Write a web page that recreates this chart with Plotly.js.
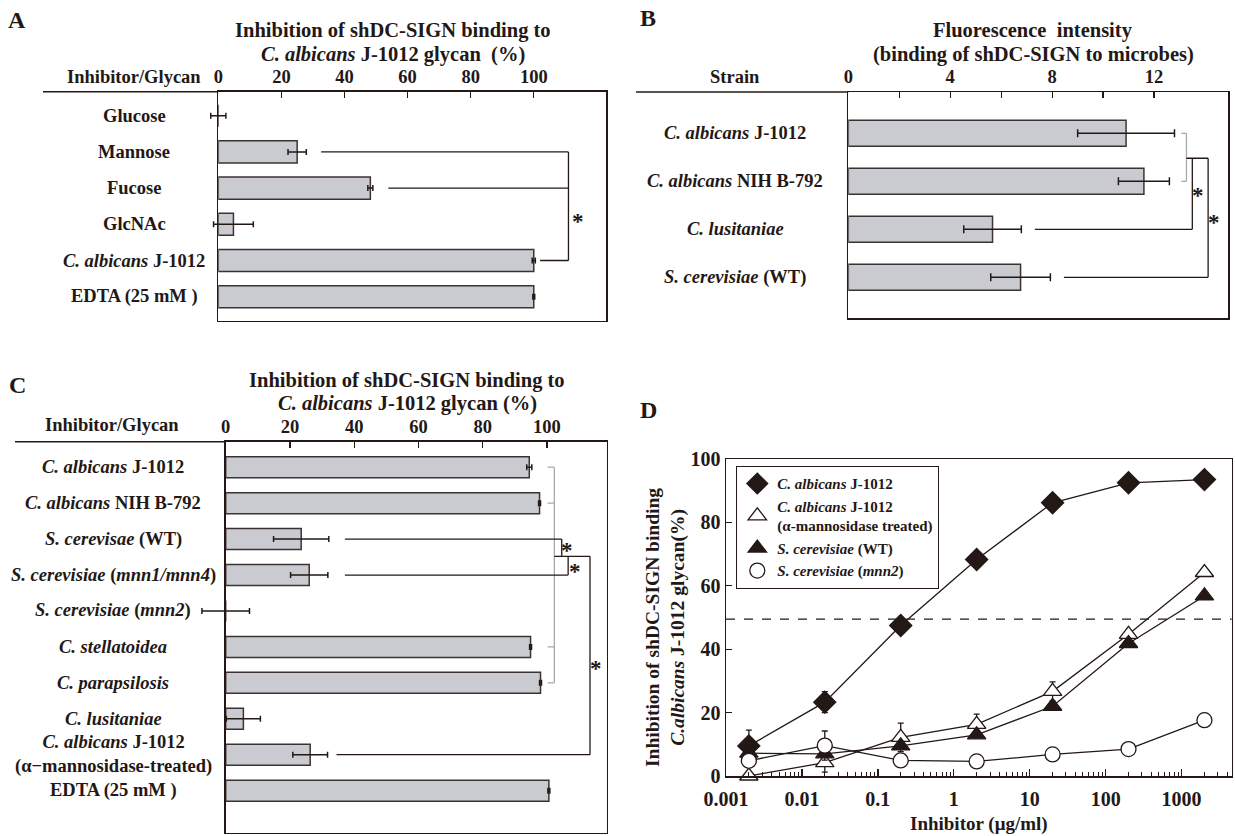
<!DOCTYPE html>
<html><head><meta charset="utf-8">
<script src="https://cdn.plot.ly/plotly-3.0.1.min.js"></script>
<style>html,body{margin:0;padding:0;background:#fff}</style>
</head><body>
<div id="chart" style="width:1235px;height:836px"></div>
<script>
// ---------- Panel A ----------
const catsA = ['Glucose', 'Mannose', 'Fucose', 'GlcNAc', '<i>C. albicans</i> J-1012', 'EDTA (25 mM )'];
const valsA = [0, 25.0, 48.2, 4.8, 100, 100];
const errA = [2.4, 2.9, 0.8, 6.3, 0.5, 0.3];
const ticksA = [0, 20, 40, 60, 80, 100];

// ---------- Panel B ----------
const catsB = ['<i>C. albicans</i> J-1012', '<i>C. albicans</i> NIH B-792', '<i>C. lusitaniae</i>', '<i>S. cerevisiae</i> (WT)'];
const valsB = [10.9, 11.6, 5.66, 6.76];
const errB = [1.9, 1.0, 1.13, 1.17];
const ticksB = [0, 2, 4, 6, 8, 10, 12];
const tickTextB = ['0', '', '4', '', '8', '', '12'];

// ---------- Panel C ----------
const catsC = ['<i>C. albicans</i> J-1012', '<i>C. albicans</i> NIH B-792', '<i>S. cerevisae</i> (WT)',
  '<i>S. cerevisiae</i> (<i>mnn1/mnn4</i>)', '<i>S. cerevisiae</i> (<i>mnn2</i>)', '<i>C. stellatoidea</i>',
  '<i>C. parapsilosis</i>', '<i>C. lusitaniae</i>', '<i>C. albicans</i> J-1012<br>(α−mannosidase-treated)', 'EDTA (25 mM )'];
const valsC = [94.5, 97.7, 23.5, 26.0, 0, 94.9, 98.0, 5.5, 26.3, 100.6];
const errC = [0.8, 0.3, 8.6, 5.8, 7.4, 0.3, 0.3, 5.3, 5.4, 0.3];
const ticksC = [0, 20, 40, 60, 80, 100];

// ---------- Panel D ----------
const doses = [0.002, 0.02, 0.2, 2, 20, 200, 2000];
const dAlb = [9.5, 23.3, 47.5, 68.3, 86.2, 92.5, 93.5];
const dAlbErr = [5.0, 3.3, 0, 0, 0, 0, 0];
const dMan = [0, 4.2, 12.2, 16.3, 26.7, 44.7, 64.2];
const dManErr = [0, 3.0, 4.5, 3.2, 3.0, 0, 0];
const dWT = [7.2, 7.0, 9.5, 13.0, 22.0, 41.8, 56.8];
const dWTErr = [0, 0, 0, 0, 0, 0, 0];
const dMnn2 = [4.8, 9.6, 4.9, 4.6, 6.8, 8.5, 17.6];
const dMnn2Err = [0, 4.6, 0, 0, 0, 0, 0];
const namesD = ['<i>C. albicans</i> J-1012', '<i>C. albicans</i> J-1012<br>(α-mannosidase treated)',
  '<i>S. cerevisiae</i> (WT)', '<i>S. cerevisiae</i> (<i>mnn2</i>)'];
const ticksD = [0.001, 0.01, 0.1, 1, 10, 100, 1000];
const tickTextD = ['0.001', '0.01', '0.1', '1', '10', '100', '1000'];
const ticksDY = [0, 20, 40, 60, 80, 100];
const halfLine = 49.5;

// ---------- styling ----------
const W = 1235, H = 836;
const INK = '#231815';
const BAR = '#c9cbd1';
const GRAY = '#a8a8a8';
const FAM = 'Liberation Serif, Times New Roman, serif';
const px = v => v / W;
const py = v => 1 - v / H;
const f = (size, extra) => Object.assign({family: FAM, size: size, color: INK, weight: 'bold'}, extra || {});

function barTrace(vals, xa, ya, width) {
  return {
    type: 'bar', orientation: 'h', x: vals, y: vals.map((_, i) => i),
    xaxis: xa, yaxis: ya, width: width,
    marker: {color: BAR, line: {color: '#3d3232', width: 1.5}},
    showlegend: false, hoverinfo: 'skip'
  };
}
// error bars drawn on a wider, invisible twin subplot with the same scale (so they may cross x = 0)
function errTrace(vals, errs, xa, ya, capw) {
  return {
    type: 'scatter', mode: 'markers', x: vals, y: vals.map((_, i) => i), xaxis: xa, yaxis: ya,
    marker: {size: 1, color: 'rgba(0,0,0,0)'},
    error_x: {type: 'data', array: errs, visible: true, color: INK, thickness: 1.5, width: capw},
    showlegend: false, hoverinfo: 'skip', cliponaxis: false
  };
}

const traces = [
  barTrace(valsA, 'x', 'y', 0.61),
  barTrace(valsB, 'x2', 'y2', 0.54),
  barTrace(valsC, 'x3', 'y3', 0.585),
  errTrace(valsA, errA, 'x5', 'y5', 3),
  errTrace(valsB, errB, 'x2', 'y2', 4),
  errTrace(valsC, errC, 'x6', 'y6', 3)
];

const seriesD = [
  {y: dAlb, e: dAlbErr, sym: 'diamond', fill: INK, size: 17},
  {y: dMan, e: dManErr, sym: 'triangle-up', fill: '#ffffff', size: 16},
  {y: dWT, e: dWTErr, sym: 'triangle-up', fill: INK, size: 16},
  {y: dMnn2, e: dMnn2Err, sym: 'circle', fill: '#ffffff', size: 15}
];
seriesD.forEach(s => traces.push({
  type: 'scatter', mode: 'lines', x: doses, y: s.y, xaxis: 'x4', yaxis: 'y4',
  line: {color: INK, width: 1.3}, showlegend: false, hoverinfo: 'skip', cliponaxis: false
}));
seriesD.forEach((s, i) => traces.push({
  type: 'scatter', mode: 'markers', x: doses, y: s.y, xaxis: 'x4', yaxis: 'y4', name: namesD[i],
  marker: {symbol: s.sym, size: s.size, color: s.fill, line: {color: INK, width: 1.3}},
  error_y: {type: 'data', array: s.e, visible: true, color: INK, thickness: 1.3, width: 3},
  cliponaxis: false, hoverinfo: 'skip'
}));

// minor log ticks for panel D
const minorD = [];
for (let p = -3; p <= 3; p++) for (let m = 2; m <= 9; m++) { const v = m * Math.pow(10, p); if (v < 4500) minorD.push(v); }

function topAxis(domain, range, tickvals, ticktext) {
  return {
    domain: domain, range: range, side: 'top', anchor: null,
    tickmode: 'array', tickvals: tickvals, ticktext: ticktext,
    ticks: 'inside', ticklen: 6, tickwidth: 1.3, tickcolor: INK,
    showline: true, mirror: true, linecolor: INK, linewidth: 1.5,
    showgrid: false, zeroline: false, tickfont: f(18.5), fixedrange: true
  };
}
function catAxis(domain, n, topPad, botPad) {
  return {
    domain: domain, range: [n - 1 + botPad, -topPad], showticklabels: false, ticks: '',
    showline: true, mirror: true, linecolor: INK, linewidth: 1.5,
    showgrid: false, zeroline: false, fixedrange: true
  };
}

// box geometry (pixels)
const boxA = {l: 218.3, r: 606, t: 91.7, b: 320.7, max: 122.9};
const boxC = {l: 225.7, r: 606.7, t: 441.7, b: 832.7, max: 118.6};
const ext = 12; // extra data units to the left for the error-bar twin subplots
const scaleA = (boxA.r - boxA.l) / boxA.max, scaleC = (boxC.r - boxC.l) / boxC.max;

const xA = topAxis([px(boxA.l), px(boxA.r)], [0, boxA.max], ticksA, ticksA.map(String)); xA.anchor = 'y';
const xB = topAxis([px(848.3), px(1228)], [0, 14.9], ticksB, tickTextB); xB.anchor = 'y2';
const xC = topAxis([px(boxC.l), px(boxC.r)], [0, boxC.max], ticksC, ticksC.map(String)); xC.anchor = 'y3';
const yA = catAxis([py(boxA.b), py(boxA.t)], catsA.length, 0.663, 0.663); yA.anchor = 'x';
const yB = catAxis([py(318.3), py(92)], catsB.length, 0.86, 0.854); yB.anchor = 'x2';
const yC = catAxis([py(boxC.b), py(boxC.t)], catsC.length, 0.71, 1.17); yC.anchor = 'x3';

const hidden = (domain, range, anchor) => ({domain: domain, range: range, anchor: anchor, visible: false, fixedrange: true, showgrid: false, zeroline: false});
const xA2 = hidden([px(boxA.l - ext * scaleA), px(boxA.r)], [-ext, boxA.max], 'y5');
const yA2 = hidden(yA.domain, yA.range, 'x5');
const xC2 = hidden([px(boxC.l - ext * scaleC), px(boxC.r)], [-ext, boxC.max], 'y6');
const yC2 = hidden(yC.domain, yC.range, 'x6');

const xD = {
  domain: [px(726), px(1231.7)], type: 'log', range: [-3, 3.66], anchor: 'y4',
  tickmode: 'array', tickvals: ticksD, ticktext: tickTextD,
  ticks: 'inside', ticklen: 7, tickwidth: 1.3, tickcolor: INK, ticklabelstandoff: 4,
  minor: {tickmode: 'array', tickvals: minorD, ticks: 'inside', ticklen: 4, tickwidth: 1, tickcolor: INK, showgrid: false},
  showline: true, mirror: true, linecolor: INK, linewidth: 1.5, showgrid: false, zeroline: false,
  tickfont: f(20), fixedrange: true
};
const yD = {
  domain: [py(776), py(459)], range: [0, 100], anchor: 'x4',
  tickmode: 'array', tickvals: ticksDY, ticks: 'inside', ticklen: 6, tickwidth: 1.3, tickcolor: INK,
  showline: true, mirror: true, linecolor: INK, linewidth: 1.5, showgrid: false, zeroline: false,
  tickfont: f(20), fixedrange: true
};

// ---------- shapes ----------
const shapes = [];
function seg(xr, yr, x0, y0, x1, y1, color, w) {
  shapes.push({type: 'line', xref: xr, yref: yr, x0: x0, y0: y0, x1: x1, y1: y1,
    line: {color: color || INK, width: w || 1.3}});
}
// top lines extending left of boxes
seg('paper', 'paper', px(43), py(boxA.t), px(boxA.l), py(boxA.t), INK, 1.5);
seg('paper', 'paper', px(636), py(92), px(848.3), py(92), INK, 1.5);
seg('paper', 'paper', px(15), py(boxC.t), px(boxC.l), py(boxC.t), INK, 1.5);
// Panel A brackets
seg('x', 'y', 32.6, 1, 111, 1); seg('x', 'y', 53.9, 2, 111, 2); seg('x', 'y', 102, 4, 111, 4);
seg('x', 'y', 111, 1, 111, 4);
// Panel B brackets
seg('x2', 'y2', 13.07, 0, 13.27, 0, GRAY); seg('x2', 'y2', 13.27, 0, 13.27, 1, GRAY); seg('x2', 'y2', 13.07, 1, 13.27, 1, GRAY);
seg('x2', 'y2', 13.27, 0.52, 14.12, 0.52);
seg('x2', 'y2', 13.5, 0.52, 13.5, 2); seg('x2', 'y2', 7.32, 2, 13.5, 2);
seg('x2', 'y2', 14.12, 0.52, 14.12, 3); seg('x2', 'y2', 8.46, 3, 14.12, 3);
// Panel C brackets
seg('x3', 'y3', 102.3, 0, 102.3, 6, GRAY);
[0, 1, 5, 6].forEach(r => seg('x3', 'y3', 100.2, r, 102.3, r, GRAY));
seg('x3', 'y3', 37.1, 2, 104.6, 2); seg('x3', 'y3', 104.6, 2, 104.6, 2.48);
seg('x3', 'y3', 102.3, 2.48, 113.4, 2.48);
seg('x3', 'y3', 106.6, 2.48, 106.6, 3); seg('x3', 'y3', 37.1, 3, 106.6, 3);
seg('x3', 'y3', 113.4, 2.48, 113.4, 8); seg('x3', 'y3', 34.5, 8, 113.4, 8);
// Panel D 50% line
shapes.push({type: 'line', xref: 'x4 domain', yref: 'y4', x0: 0, x1: 1, y0: halfLine, y1: halfLine,
  line: {color: INK, width: 1.2, dash: 'dash'}});

// ---------- annotations ----------
const ann = [];
function txt(x, y, text, size, opts) {
  ann.push(Object.assign({xref: 'paper', yref: 'paper', x: x, y: y, text: text, showarrow: false,
    xanchor: 'center', yanchor: 'middle', borderpad: 0, font: f(size)}, opts || {}));
}
// panel letters
txt(px(17), py(20), 'A', 24); txt(px(648), py(18), 'B', 24); txt(px(17), py(385), 'C', 24); txt(px(648), py(410), 'D', 24);
// titles (two lines each)
txt(px(393), py(30.5), 'Inhibition of shDC-SIGN binding to', 20.5);
txt(px(393), py(54), '<i>C. albicans</i> J-1012 glycan  (%)', 20.5);
txt(px(1033), py(30.5), 'Fluorescence  intensity', 20.5);
txt(px(1033), py(54), '(binding of shDC-SIGN to microbes)', 20.5);
txt(px(407), py(380), 'Inhibition of shDC-SIGN binding to', 20.5);
txt(px(407), py(403.5), '<i>C. albicans</i> J-1012 glycan (%)', 20.5);
// headers
txt(px(134), py(77), 'Inhibitor/Glycan', 18.5);
txt(px(735), py(77), 'Strain', 18.5);
txt(px(112), py(425), 'Inhibitor/Glycan', 18.5);
// category labels
catsA.forEach((c, i) => ann.push({xref: 'paper', yref: 'y', x: px(134), y: i, text: c, showarrow: false, xanchor: 'center', yanchor: 'middle', font: f(18.5)}));
catsB.forEach((c, i) => ann.push({xref: 'paper', yref: 'y2', x: px(735), y: i, text: c, showarrow: false, xanchor: 'center', yanchor: 'middle', font: f(18.5)}));
catsC.forEach((c, i) => ann.push({xref: 'paper', yref: 'y3', x: px(113), y: i, text: c, showarrow: false, xanchor: 'center', yanchor: 'middle', font: f(18.5)}));
// asterisks
function star(xr, yr, x, y) { ann.push({xref: xr, yref: yr, x: x, y: y, text: '*', showarrow: false, xanchor: 'center', yanchor: 'middle', font: f(23)}); }
star('x', 'y', 114, 2.91);
star('x2', 'y2', 13.73, 1.3); star('x2', 'y2', 14.35, 1.85);
star('x3', 'y3', 106.1, 2.33); star('x3', 'y3', 108.7, 2.9); star('x3', 'y3', 115.2, 5.6);
// panel D axis titles
txt(px(665), py(628), 'Inhibition of shDC-SIGN binding<br><i>C.albicans</i> J-1012 glycan(%)', 19.5, {textangle: -90});
txt(px(979), py(824), 'Inhibitor (μg/ml)', 19);

const layout = {
  width: W, height: H, margin: {l: 0, r: 0, t: 0, b: 0},
  paper_bgcolor: '#ffffff', plot_bgcolor: 'rgba(0,0,0,0)',
  font: {family: FAM, color: INK},
  xaxis: xA, yaxis: yA, xaxis2: xB, yaxis2: yB, xaxis3: xC, yaxis3: yC, xaxis4: xD, yaxis4: yD,
  xaxis5: xA2, yaxis5: yA2, xaxis6: xC2, yaxis6: yC2,
  bargap: 0,
  showlegend: true,
  legend: {x: px(736), y: py(466), xanchor: 'left', yanchor: 'top', bgcolor: '#ffffff',
    bordercolor: INK, borderwidth: 1.3, font: f(15), tracegroupgap: 0, itemwidth: 30},
  shapes: shapes, annotations: ann
};

Plotly.newPlot('chart', traces, layout, {displayModeBar: false, staticPlot: true});
</script>
</body></html>
